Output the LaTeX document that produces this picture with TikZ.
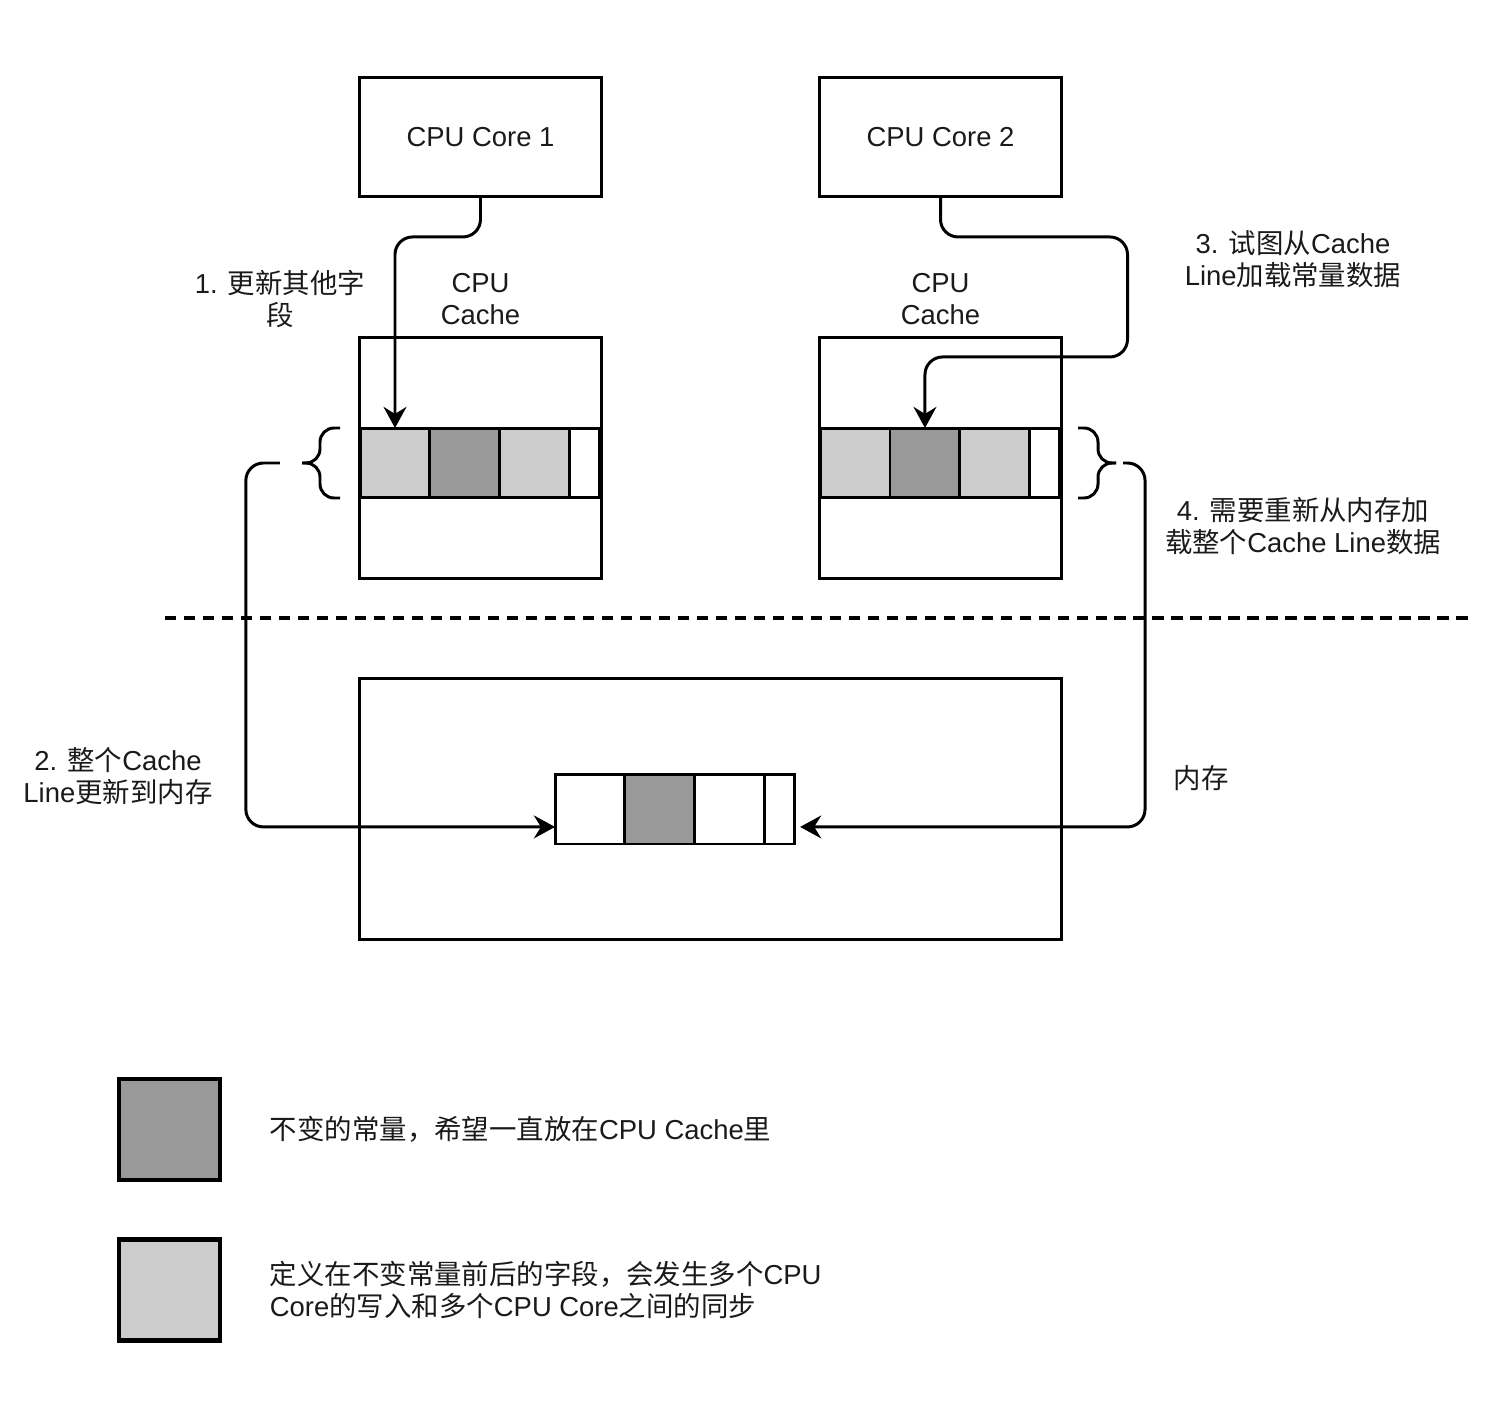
\documentclass[tikz,border=0pt]{standalone}
\usepackage{fontspec}
\setmainfont{Liberation Sans}
\newfontfamily\cjkfont{Noto Sans CJK SC}
\newcommand{\zh}[1]{{\cjkfont #1}}
\usetikzlibrary{arrows.meta,positioning}
\definecolor{constgray}{HTML}{999999}
\definecolor{fieldgray}{HTML}{CCCCCC}
\definecolor{inkgray}{HTML}{1A1A1A}
\tikzset{
  box/.style={draw, line width=0.85pt, minimum width=68.6pt, inner sep=0pt, outer sep=0pt},
  cell/.style={draw, line width=0.85pt, minimum width=19.9pt, minimum height=19.9pt, inner sep=0pt, outer sep=0pt},
  keybox/.style={draw, line width=1.2pt, minimum size=28.7pt, inner sep=0pt},
  lbl/.style={align=center, inner sep=0pt, text=inkgray, font=\fontsize{7.8}{9.1}\selectfont},
  flow/.style={line width=0.85pt, rounded corners=5pt, -{Stealth[length=6pt,width=6.5pt,inset=2pt]}},
  brk/.style={line width=0.85pt, rounded corners=4pt},
}
\begin{document}
\begin{tikzpicture}[x=0.01cm,y=-0.01cm]
\useasboundingbox (0,0) rectangle (1502,1406);
% cores
\node[box, lbl, minimum height=34.1pt] (core1) at (480.5,137) {CPU Core 1};
\node[box, lbl, minimum height=34.1pt] (core2) at (940.5,137) {CPU Core 2};
% caches
\node[lbl] (title1) at (480.5,299) {CPU\\Cache};
\node[lbl] (title2) at (940.5,299) {CPU\\Cache};
\node[box, minimum height=68.3pt] (cache1) at (480.5,458) {};
\node[box, minimum height=68.3pt] (cache2) at (940.5,458) {};
\node[cell, fill=fieldgray] (c1a) at (395,463) {};
\node[cell, fill=constgray, right=0pt of c1a] (c1b) {};
\node[cell, fill=fieldgray, right=0pt of c1b] (c1c) {};
\node[cell, minimum width=8.5pt, right=0pt of c1c] (c1d) {};
\node[cell, fill=fieldgray] (c2a) at (855,463) {};
\node[cell, fill=constgray, right=0pt of c2a] (c2b) {};
\node[cell, fill=fieldgray, right=0pt of c2b] (c2c) {};
\node[cell, minimum width=8.5pt, right=0pt of c2c] (c2d) {};
% braces
\coordinate (tipL) at (302,463);
\coordinate (tipR) at (1116,463);
\draw[brk] (340,428) -- (320,428) -- (320,463) -- (tipL);
\draw[brk] (340,498) -- (320,498) -- (320,463) -- (tipL);
\draw[brk] (1078,428) -- (1098,428) -- (1098,463) -- (tipR);
\draw[brk] (1078,498) -- (1098,498) -- (1098,463) -- (tipR);
% divider
\draw[line width=1.1pt, dash pattern=on 3.2pt off 2.2pt] (165,618) -- (1468,618);
% memory
\node[box, minimum width=199.5pt, minimum height=74pt] (mem) at (710.5,809) {};
\node[cell] (m1) at (590,809) {};
\node[cell, fill=constgray, right=0pt of m1] (m2) {};
\node[cell, right=0pt of m2] (m3) {};
\node[cell, minimum width=8.5pt, right=0pt of m3] (m4) {};
% flows
\draw[flow] (core1.south) -- ++(0,40) -| (c1a.north);
\draw[flow] (core2.south) -- ++(0,40) -- ++(187,0) -- ++(0,120) -| (c2b.north);
\draw[flow] ([xshift=-6.3pt]tipL) -- ++(-34,0) |- ([yshift=-5.1pt]m1.west);
\draw[flow] ([xshift=2pt]tipR) -- ++(22,0) |- ([yshift=-5.1pt,xshift=1.5pt]m4.east);
% labels
\node[lbl] (step1) at (280,299) {1. \zh{更新其他字}\\\zh{段}};
\node[lbl] (step2) at (118,776) {2. \zh{整个}Cache\\Line\zh{更新到内存}};
\node[lbl] (step3) at (1293,259) {3. \zh{试图从}Cache\\Line\zh{加载常量数据}};
\node[lbl] (step4) at (1303,526) {4. \zh{需要重新从内存加}\\\zh{载整个}Cache Line\zh{数据}};
\node[lbl] (memlbl) at (1201,778) {\zh{内存}};
% legend
\node[keybox, fill=constgray] (keyconst) at (169.5,1129.5) {};
\node[lbl, align=left, right=13.4pt of keyconst] (keyconsttxt) {\zh{不变的常量，希望一直放在}CPU Cache\zh{里}};
\node[keybox, fill=fieldgray] (keyfield) at (169.5,1290) {};
\node[lbl, align=left, right=13.4pt of keyfield] (keyfieldtxt) {\zh{定义在不变常量前后的字段，会发生多个}CPU\\Core\zh{的写入和多个}CPU Core\zh{之间的同步}};
\end{tikzpicture}
\end{document}
